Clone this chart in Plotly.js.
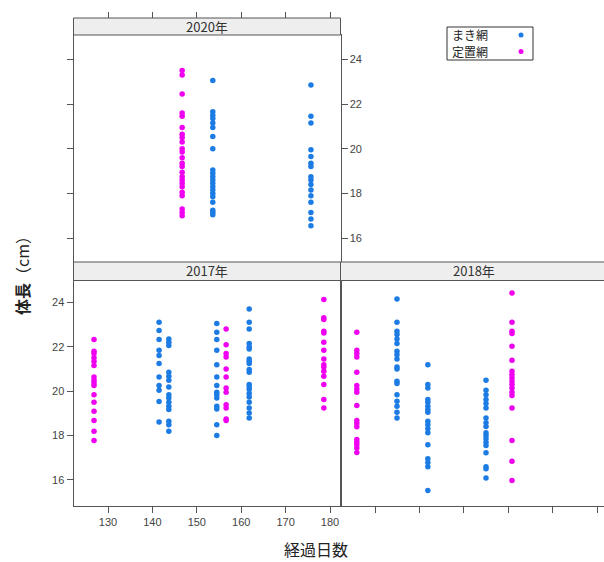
<!DOCTYPE html>
<html>
<head>
<meta charset="utf-8">
<script src="https://cdn.plot.ly/plotly-3.0.1.min.js"></script>
<style>
html,body{margin:0;padding:0;overflow:hidden;background:#fff;width:604px;height:562px;}
#chart{width:612px;height:562px;}
</style>
</head>
<body>
<div id="chart"></div>
<script>
// ---- data (days elapsed, body length cm) ----
const yearLabels = ["2020年", "2017年", "2018年"];
const seriesNames = ["まき網", "定置網"];
const xTicks = [130, 140, 150, 160, 170, 180];
const yTicks = [16, 18, 20, 22, 24];

// 2020
const maki2020Days = [153.6, 175.7];
const maki2020Len = [
  [23.05,21.65,21.5,21.35,21.15,20.95,20.55,20.0,19.05,18.9,18.75,18.6,18.45,18.3,18.15,18.0,17.85,17.6,17.25,17.15,17.05],
  [22.85,21.45,21.15,19.95,19.65,19.35,19.2,18.75,18.6,18.4,18.15,17.9,17.6,17.15,16.85,16.55]
];
const teichi2020Days = [146.7];
const teichi2020Len = [
  [23.5,23.3,22.45,21.6,21.45,20.95,20.65,20.5,20.3,20.0,19.85,19.6,19.35,19.2,18.95,18.75,18.6,18.45,18.3,18.05,17.9,17.3,17.15,17.0]
];

// 2017
const maki2017Days = [141.5, 143.7, 154.5, 161.8];
const maki2017Len = [
  [23.1,22.73,22.32,21.84,21.6,21.24,20.64,20.25,20.04,19.53,18.61],
  [22.35,22.2,22.05,20.85,20.67,20.49,20.19,19.84,19.69,19.5,19.32,19.17,18.64,18.49,18.19],
  [23.04,22.65,22.32,21.84,21.19,20.64,20.25,19.95,19.84,19.69,19.32,19.2,18.49,18.0],
  [23.7,23.1,22.8,22.14,21.99,21.9,21.45,21.35,21.24,20.97,20.85,20.3,20.19,20.07,19.89,19.74,19.5,19.24,19.02,18.79]
];
const teichi2017Days = [126.85, 156.6, 178.6];
const teichi2017Len = [
  [22.32,21.8,21.69,21.5,21.35,21.15,20.64,20.49,20.37,20.25,19.84,19.5,19.09,18.68,18.19,17.78],
  [22.8,22.09,21.69,21.54,21.0,20.64,20.14,19.95,19.39,19.24,18.75,18.68],
  [24.12,23.3,23.22,22.69,22.62,22.2,21.84,21.45,21.19,21.09,20.89,20.67,20.3,19.62,19.24]
];

// 2018
const maki2018Days = [134.95, 141.9, 155.0];
const maki2018Len = [
  [24.15,23.1,22.69,22.55,22.35,22.14,21.79,21.64,21.45,21.09,21.0,20.44,20.34,19.84,19.54,19.32,19.05,18.79],
  [21.19,20.3,20.14,19.62,19.5,19.32,19.17,19.05,18.64,18.49,18.3,18.12,17.59,16.95,16.79,16.59,15.53],
  [20.49,20.04,19.84,19.62,19.44,19.24,18.79,18.57,18.41,18.12,18.0,17.85,17.7,17.55,17.22,16.59,16.5,16.09]
];
const teichi2018Days = [125.9, 160.85];
const teichi2018Len = [
  [22.65,21.84,21.69,21.54,20.85,20.25,20.1,19.95,19.35,18.68,18.54,18.39,17.82,17.7,17.59,17.44,17.24],
  [24.42,23.1,22.69,22.59,22.02,21.39,20.89,20.74,20.59,20.44,20.3,20.14,19.95,19.8,19.24,17.78,16.84,15.98]
];

const colMaki = "#1c7ce4";
const colTeichi = "#f000f0";

// ---- geometry helpers (pixel -> paper) ----
const W = 612, H = 562;
const px = v => v / W;
const py = v => 1 - v / H;

function flatten(days, lens) {
  const xs = [], ys = [];
  days.forEach((d, i) => lens[i].forEach(v => { xs.push(d); ys.push(v); }));
  return {x: xs, y: ys};
}
function tr(days, lens, color, xa, ya, name) {
  const f = flatten(days, lens);
  return {type: "scatter", mode: "markers", x: f.x, y: f.y, xaxis: xa, yaxis: ya, name: name,
    showlegend: false, hoverinfo: "skip",
    marker: {size: 5.5, color: color, line: {width: 0}}};
}

const traces = [
  tr(maki2020Days, maki2020Len, colMaki, "x", "y", seriesNames[0]),
  tr(teichi2020Days, teichi2020Len, colTeichi, "x", "y", seriesNames[1]),
  tr(maki2017Days, maki2017Len, colMaki, "x2", "y2", seriesNames[0]),
  tr(teichi2017Days, teichi2017Len, colTeichi, "x2", "y2", seriesNames[1]),
  tr(maki2018Days, maki2018Len, colMaki, "x3", "y3", seriesNames[0]),
  tr(teichi2018Days, teichi2018Len, colTeichi, "x3", "y3", seriesNames[1]),
  {type: "scatter", mode: "markers", x: [], y: [], xaxis: "x4", yaxis: "y", showlegend: false, hoverinfo: "skip"}
];

const tickFont = {family: "Liberation Sans, Arial, sans-serif", size: 11, color: "#444"};
const lineCol = "#555";
const xRange = [122.23, 182.36];
const leftDom = [px(73.5), px(340.5)];
const rightDom = [px(340.5), px(607.5)];
const topDom = [py(262), py(35)];
const botDom = [py(505.5), py(280.5)];

function xa(dom, anchor, side, labels, ticks) {
  return {domain: dom, anchor: anchor, range: xRange, side: side, tickvals: xTicks,
    ticktext: xTicks.map(String), showticklabels: labels, ticks: ticks ? "outside" : "", ticklen: 6,
    tickcolor: lineCol, showline: true, linecolor: lineCol, linewidth: 1, mirror: true,
    showgrid: false, zeroline: false, tickfont: tickFont, fixedrange: true};
}
function ya(dom, anchor, side, range, labels, mirror) {
  return {domain: dom, anchor: anchor, range: range, side: side, tickvals: yTicks,
    ticktext: yTicks.map(String), showticklabels: labels, ticks: "outside", ticklen: 6,
    tickcolor: lineCol, showline: true, linecolor: lineCol, linewidth: 1, mirror: mirror,
    showgrid: false, zeroline: false, tickfont: tickFont, fixedrange: true};
}

const stripFill = "#eeeeee";
function strip(x0, x1, y0, y1) {
  return {type: "rect", xref: "paper", yref: "paper", x0: px(x0), x1: px(x1), y0: py(y1), y1: py(y0),
    fillcolor: stripFill, line: {color: lineCol, width: 1}, layer: "above"};
}
const cjk = "Noto Sans CJK JP, sans-serif";

const shapes = [
  strip(73.5, 340.5, 18, 35),
  strip(73.5, 340.5, 262, 280.5),
  strip(340.5, 607.5, 262, 280.5),
  {type: "rect", xref: "paper", yref: "paper", x0: px(447), x1: px(533), y0: py(60), y1: py(27),
    fillcolor: "#fff", line: {color: "#333", width: 1}},
  {type: "circle", xref: "paper", yref: "paper", x0: px(518.5), x1: px(523.5), y0: py(37.5), y1: py(32.5),
    fillcolor: colMaki, line: {width: 0}},
  {type: "circle", xref: "paper", yref: "paper", x0: px(518.5), x1: px(523.5), y0: py(54), y1: py(49),
    fillcolor: colTeichi, line: {width: 0}}
];

const stripFont = {family: cjk, size: 13, color: "#333"};
const annotations = [
  {text: yearLabels[0], xref: "paper", yref: "paper", x: px(207), y: py(26.5), showarrow: false, font: stripFont, xanchor: "center", yanchor: "middle"},
  {text: yearLabels[1], xref: "paper", yref: "paper", x: px(207), y: py(271), showarrow: false, font: stripFont, xanchor: "center", yanchor: "middle"},
  {text: yearLabels[2], xref: "paper", yref: "paper", x: px(474), y: py(271), showarrow: false, font: stripFont, xanchor: "center", yanchor: "middle"},
  {text: seriesNames[0], xref: "paper", yref: "paper", x: px(450), y: py(35), showarrow: false, font: {family: cjk, size: 12, color: "#222"}, xanchor: "left", yanchor: "middle"},
  {text: seriesNames[1], xref: "paper", yref: "paper", x: px(450), y: py(51.5), showarrow: false, font: {family: cjk, size: 12, color: "#222"}, xanchor: "left", yanchor: "middle"},
  {text: "<b>体長</b>（cm）", xref: "paper", yref: "paper", x: px(22), y: py(272), showarrow: false, textangle: -90,
    font: {family: cjk, size: 16, color: "#222"}, xanchor: "center", yanchor: "middle"},
  {text: "経過日数", xref: "paper", yref: "paper", x: px(316), y: py(549), showarrow: false,
    font: {family: cjk, size: 16, color: "#222"}, xanchor: "center", yanchor: "middle"}
];

const layout = {
  width: W, height: H, margin: {l: 0, r: 0, t: 0, b: 0}, paper_bgcolor: "#fff", plot_bgcolor: "#fff",
  showlegend: false,
  xaxis: xa(leftDom, "y", "top", false, false),
  yaxis: ya(topDom, "x", "right", [14.93, 25.09], true, "ticks"),
  xaxis2: xa(leftDom, "y2", "bottom", true, true),
  yaxis2: ya(botDom, "x2", "left", [14.85, 24.98], true, true),
  xaxis3: xa(rightDom, "y3", "bottom", false, true),
  yaxis3: ya(botDom, "x3", "right", [14.85, 24.98], false, true),
  xaxis4: {domain: leftDom, anchor: "free", position: py(18), overlaying: "x", side: "top", range: xRange,
    tickvals: xTicks, showticklabels: false, ticks: "outside", ticklen: 6, tickcolor: lineCol,
    showline: false, showgrid: false, zeroline: false, fixedrange: true},
  shapes: shapes,
  annotations: annotations
};

Plotly.newPlot("chart", traces, layout, {staticPlot: true, displayModeBar: false});
</script>
</body>
</html>
